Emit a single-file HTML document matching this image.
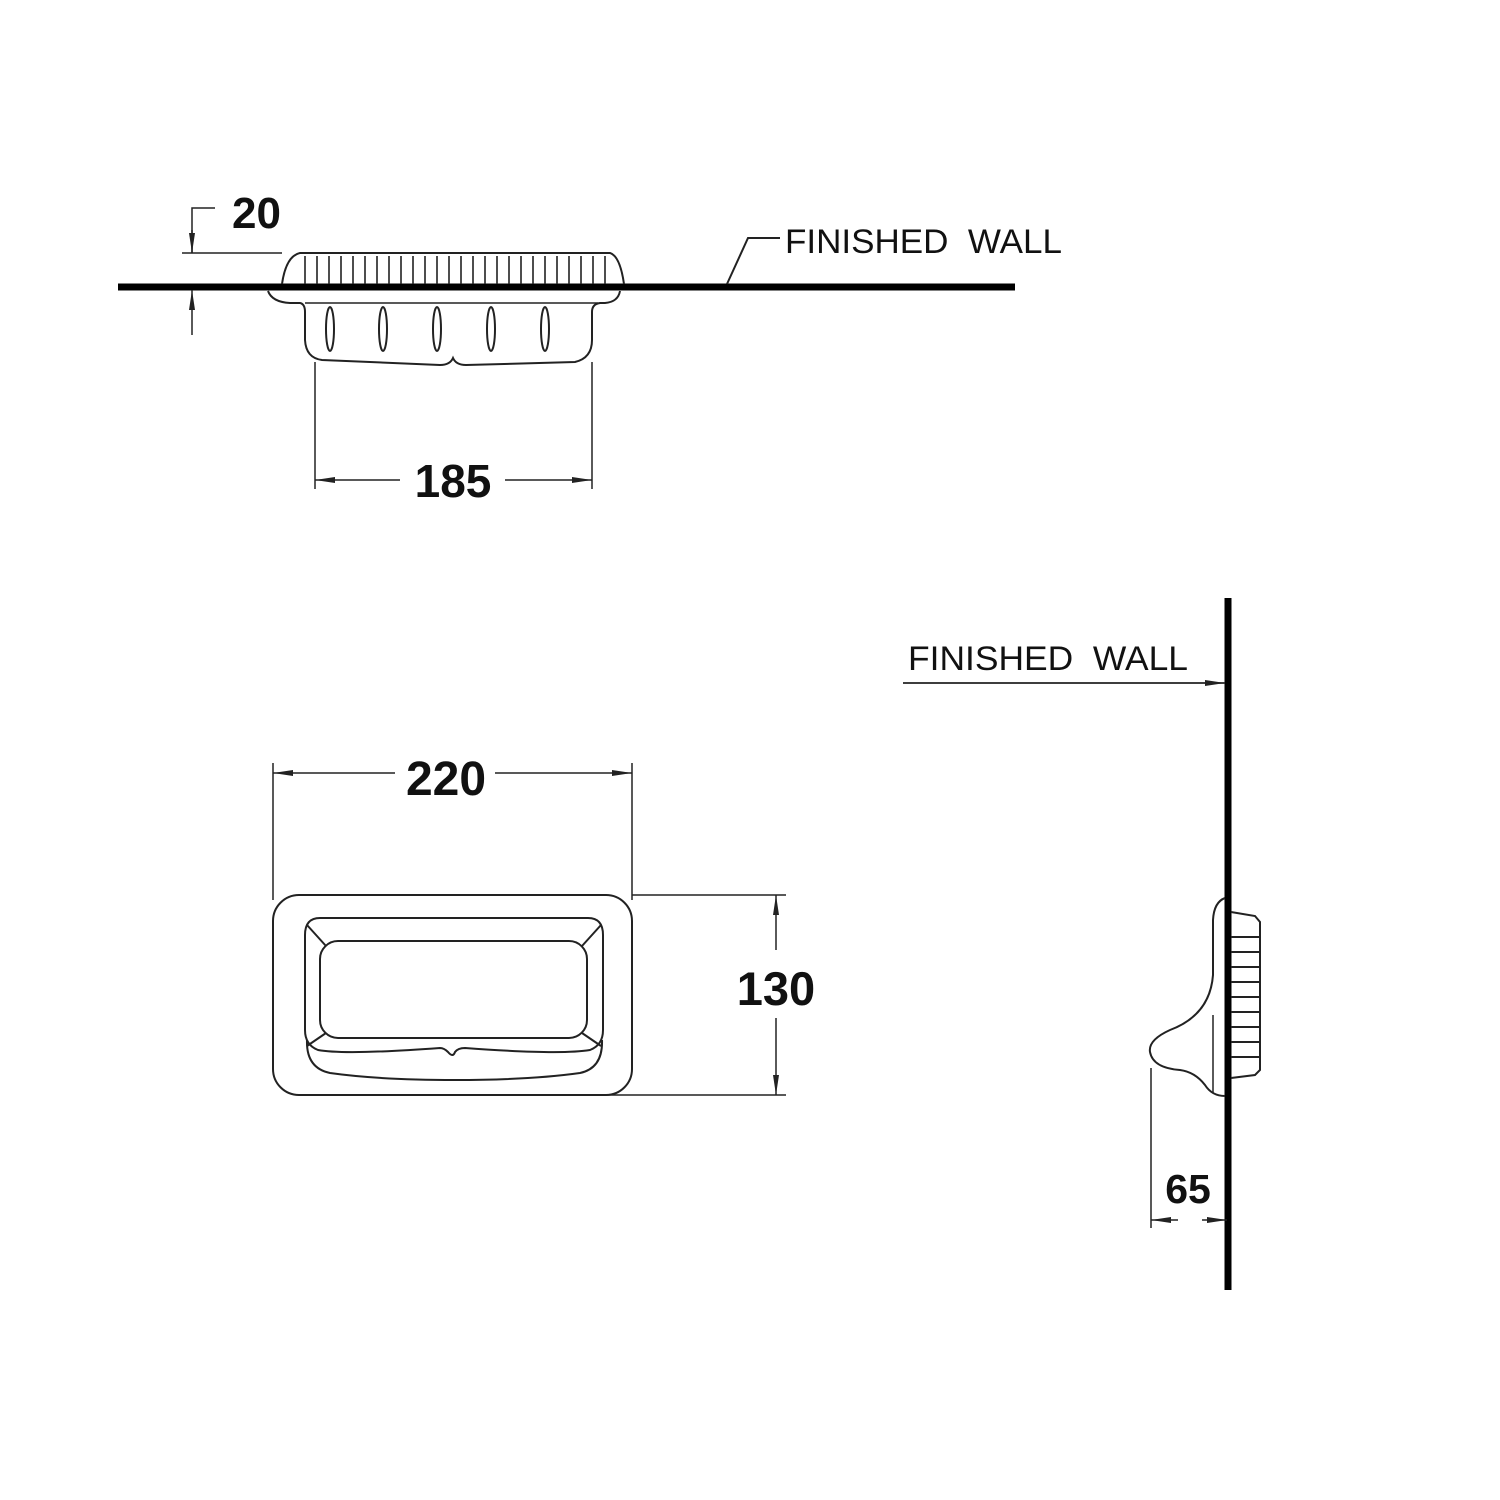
<!DOCTYPE html>
<html><head><meta charset="utf-8"><style>html,body{margin:0;padding:0;background:#fff}svg{display:block}</style></head>
<body>
<svg width="1500" height="1500" viewBox="0 0 1500 1500" xmlns="http://www.w3.org/2000/svg">
<defs>
<marker id="a" viewBox="0 0 20 8" refX="20" refY="4" markerWidth="20" markerHeight="8" markerUnits="userSpaceOnUse" orient="auto"><path d="M0,1 L20,4 L0,7 Z" fill="#222"/></marker>
</defs>
<g fill="none" stroke="#222" stroke-width="2">
<!-- TOP VIEW -->
<line x1="118" y1="287" x2="1015" y2="287" stroke="#000" stroke-width="7"/>
<path d="M282,284 Q286,256 300,253 L610,253 Q620,256 624,284"/>
<g stroke-width="1.6">
<line x1="305" y1="256" x2="305" y2="284"/><line x1="317" y1="256" x2="317" y2="284"/><line x1="329" y1="256" x2="329" y2="284"/><line x1="341" y1="256" x2="341" y2="284"/><line x1="353" y1="256" x2="353" y2="284"/><line x1="365" y1="256" x2="365" y2="284"/><line x1="377" y1="256" x2="377" y2="284"/><line x1="389" y1="256" x2="389" y2="284"/><line x1="401" y1="256" x2="401" y2="284"/><line x1="413" y1="256" x2="413" y2="284"/><line x1="425" y1="256" x2="425" y2="284"/><line x1="437" y1="256" x2="437" y2="284"/><line x1="449" y1="256" x2="449" y2="284"/><line x1="461" y1="256" x2="461" y2="284"/><line x1="473" y1="256" x2="473" y2="284"/><line x1="485" y1="256" x2="485" y2="284"/><line x1="497" y1="256" x2="497" y2="284"/><line x1="509" y1="256" x2="509" y2="284"/><line x1="521" y1="256" x2="521" y2="284"/><line x1="533" y1="256" x2="533" y2="284"/><line x1="545" y1="256" x2="545" y2="284"/><line x1="557" y1="256" x2="557" y2="284"/><line x1="569" y1="256" x2="569" y2="284"/><line x1="581" y1="256" x2="581" y2="284"/><line x1="593" y1="256" x2="593" y2="284"/><line x1="605" y1="256" x2="605" y2="284"/>
</g>
<path d="M268,291 Q272,302 290,303 L300,303 Q305,304 305,312 L305,340 Q306,358 322,360 L440,365 Q450,365 453,358 Q456,365 466,365 L575,362 Q592,358 592,340 L592,312 Q592,304 600,303 L605,303 Q618,302 620,291"/>
<path d="M305,303 L598,303" stroke-width="1.5"/>
<ellipse cx="330" cy="329" rx="4" ry="22"/><ellipse cx="383" cy="329" rx="4" ry="22"/><ellipse cx="437" cy="329" rx="4" ry="22"/><ellipse cx="491" cy="329" rx="4" ry="22"/><ellipse cx="545" cy="329" rx="4" ry="22"/>
<!-- 185 -->
<line x1="315" y1="362" x2="315" y2="489" stroke-width="1.5"/>
<line x1="592" y1="362" x2="592" y2="489" stroke-width="1.5"/>
<line x1="400" y1="480" x2="315" y2="480" marker-end="url(#a)" stroke-width="1.5"/>
<line x1="505" y1="480" x2="592" y2="480" marker-end="url(#a)" stroke-width="1.5"/>
<!-- 20 -->
<path d="M215,208 L192,208 L192,253" stroke-width="1.5"/>
<line x1="192" y1="230" x2="192" y2="253" marker-end="url(#a)" stroke-width="1.5"/>
<line x1="192" y1="335" x2="192" y2="290" marker-end="url(#a)" stroke-width="1.5"/>
<line x1="182" y1="253" x2="282" y2="253" stroke-width="1.5"/>
<!-- leader -->
<path d="M727,284 L748,238 L780,238" stroke-width="2"/>

<!-- FRONT VIEW -->
<rect x="273" y="895" width="359" height="200" rx="26" stroke-width="2"/>
<path d="M320,918 L588,918 Q603,918 603,935 L603,1030 Q603,1045 590,1050 Q560,1055 465,1048 Q458,1048 455,1052 Q453,1058 448,1052 Q444,1048 440,1048 Q345,1055 318,1050 Q305,1045 305,1030 L305,935 Q305,918 320,918 Z" stroke-width="2"/>
<rect x="320" y="941" width="267" height="97" rx="18" stroke-width="2"/>
<path d="M307,1040 Q306,1068 330,1073 Q380,1080 455,1080 Q530,1080 580,1073 Q603,1068 602,1040" stroke-width="2"/>
<line x1="307" y1="925" x2="326" y2="946"/><line x1="601" y1="925" x2="582" y2="946"/>
<line x1="307" y1="1046" x2="326" y2="1033"/><line x1="601" y1="1046" x2="582" y2="1033"/>
<!-- 220 -->
<line x1="273" y1="763" x2="273" y2="900" stroke-width="1.5"/>
<line x1="632" y1="763" x2="632" y2="900" stroke-width="1.5"/>
<line x1="395" y1="773" x2="273" y2="773" marker-end="url(#a)" stroke-width="1.5"/>
<line x1="495" y1="773" x2="632" y2="773" marker-end="url(#a)" stroke-width="1.5"/>
<!-- 130 -->
<line x1="632" y1="895" x2="786" y2="895" stroke-width="1.5"/>
<line x1="600" y1="1095" x2="786" y2="1095" stroke-width="1.5"/>
<line x1="776" y1="950" x2="776" y2="895" marker-end="url(#a)" stroke-width="1.5"/>
<line x1="776" y1="1018" x2="776" y2="1095" marker-end="url(#a)" stroke-width="1.5"/>

<!-- SIDE VIEW -->
<line x1="1228" y1="598" x2="1228" y2="1290" stroke="#000" stroke-width="7"/>
<line x1="903" y1="683" x2="1225" y2="683" marker-end="url(#a)" stroke-width="1.8"/>
<path d="M1231,912 L1255,916 L1260,922 L1260,1070 L1255,1075 L1231,1078" stroke-width="2"/>
<g stroke-width="2"><line x1="1231" y1="937" x2="1259" y2="937"/><line x1="1231" y1="952" x2="1259" y2="952"/><line x1="1231" y1="967" x2="1259" y2="967"/><line x1="1231" y1="982" x2="1259" y2="982"/><line x1="1231" y1="997" x2="1259" y2="997"/><line x1="1231" y1="1012" x2="1259" y2="1012"/><line x1="1231" y1="1027" x2="1259" y2="1027"/><line x1="1231" y1="1042" x2="1259" y2="1042"/><line x1="1231" y1="1057" x2="1259" y2="1057"/></g>
<path d="M1225,898 Q1214,902 1213,920 L1213,975 Q1210,1015 1170,1030 Q1148,1040 1150,1052 Q1153,1068 1180,1070 Q1195,1072 1205,1085 Q1212,1096 1225,1096" stroke-width="2"/>
<line x1="1213" y1="1015" x2="1213" y2="1093" stroke-width="1.5"/>
<!-- 65 -->
<line x1="1151" y1="1068" x2="1151" y2="1228" stroke-width="1.5"/>
<line x1="1178" y1="1220" x2="1151" y2="1220" marker-end="url(#a)" stroke-width="1.5"/>
<line x1="1202" y1="1220" x2="1227" y2="1220" marker-end="url(#a)" stroke-width="1.5"/>
</g>
<g font-family="Liberation Sans, sans-serif" fill="#111">
<text x="453" y="497" font-size="46" font-weight="bold" text-anchor="middle">185</text>
<text x="232" y="228" font-size="44" font-weight="bold">20</text>
<text x="446" y="795" font-size="48" font-weight="bold" text-anchor="middle">220</text>
<text x="776" y="1005" font-size="47" font-weight="bold" text-anchor="middle">130</text>
<text x="1188" y="1203" font-size="41" font-weight="bold" text-anchor="middle">65</text>
<text x="785" y="253" font-size="34" textLength="277" lengthAdjust="spacingAndGlyphs" xml:space="preserve">FINISHED  WALL</text>
<text x="908" y="670" font-size="34" textLength="280" lengthAdjust="spacingAndGlyphs" xml:space="preserve">FINISHED  WALL</text>
</g>
</svg>
</body></html>
